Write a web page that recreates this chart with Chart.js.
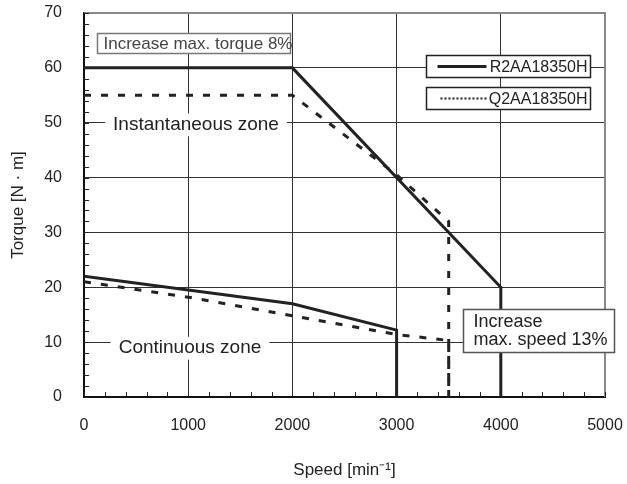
<!DOCTYPE html>
<html>
<head>
<meta charset="utf-8">
<script src="https://cdn.jsdelivr.net/npm/chart.js@4.4.1/dist/chart.umd.min.js"></script>
<style>
  html, body { margin: 0; padding: 0; background: #fff; }
</style>
</head>
<body>
<canvas id="torqueChart" width="627" height="484"></canvas>
<script>
// axis ticks
const speedTicks = [0, 1000, 2000, 3000, 4000, 5000];
const torqueTicks = [0, 10, 20, 30, 40, 50, 60, 70];

// R2AA18350H (solid)
const r2InstSpeed = [0, 2000, 4000, 4000];
const r2InstTorque = [60, 60, 20, 0];
const r2ContSpeed = [0, 2000, 3000, 3000];
const r2ContTorque = [22, 17, 12.2, 0];

// Q2AA18350H (dashed)
const q2InstSpeed = [0, 2000, 3000, 3500, 3500];
const q2InstTorque = [55, 55, 40.5, 32, 0];
const q2ContSpeed = [0, 1000, 2000, 3000, 3500, 3500];
const q2ContTorque = [21, 18.2, 14.8, 11.4, 10.3, 0];

const seriesNames = ["R2AA18350H", "Q2AA18350H"];

const FONT = "'Liberation Sans', Arial, sans-serif";
const INK = "#222";

const toPoints = (xs, ys) => xs.map((x, i) => ({ x: x, y: ys[i] }));

const solid = (xs, ys) => ({
  data: toPoints(xs, ys),
  borderColor: INK,
  borderWidth: 3,
  pointRadius: 0,
  showLine: true,
  tension: 0,
});
const dashed = (xs, ys) => ({
  data: toPoints(xs, ys),
  borderColor: INK,
  borderWidth: 3,
  borderDash: [7, 10],
  pointRadius: 0,
  showLine: true,
  tension: 0,
});

// minor ticks, frame and the text boxes
const overlayPlugin = {
  id: "overlay",
  beforeDatasetsDraw(chart) {
    const { ctx, chartArea: a, scales } = chart;
    const sx = scales.x, sy = scales.y;
    ctx.save();
    ctx.strokeStyle = "#888";
    ctx.lineWidth = 2;
    ctx.beginPath();
    ctx.moveTo(a.left, a.top);
    ctx.lineTo(a.right, a.top);
    ctx.lineTo(a.right, a.bottom);
    ctx.stroke();

    ctx.strokeStyle = INK;
    ctx.lineWidth = 1;
    ctx.beginPath();
    for (let v = 0; v <= 5000; v += 200) {
      const px = Math.round(sx.getPixelForValue(v)) + 0.5;
      ctx.moveTo(px, a.bottom);
      ctx.lineTo(px, a.bottom - 5);
    }
    for (let v = 0; v <= 70; v += 2) {
      const py = Math.round(sy.getPixelForValue(v)) + 0.5;
      ctx.moveTo(a.left, py);
      ctx.lineTo(a.left + 5, py);
    }
    ctx.stroke();
    ctx.restore();
  },
  afterDatasetsDraw(chart) {
    const { ctx, scales } = chart;
    const sx = scales.x, sy = scales.y;
    const X = (v) => sx.getPixelForValue(v);
    const Y = (v) => sy.getPixelForValue(v);

    const box = (x0, y0, x1, y1, stroke) => {
      const l = Math.round(X(x0)) + 0.5, r = Math.round(X(x1)) + 0.5;
      const t = Math.round(Y(y0)) + 0.5, b = Math.round(Y(y1)) + 0.5;
      ctx.fillStyle = "#fff";
      ctx.fillRect(l, t, r - l, b - t);
      ctx.strokeStyle = stroke;
      ctx.lineWidth = 1.5;
      ctx.strokeRect(l, t, r - l, b - t);
      return { l, r, t, b };
    };
    const label = (text, xv, yv, size) => {
      ctx.font = size + "px " + FONT;
      const w = ctx.measureText(text).width;
      const cx = X(xv), cy = Y(yv);
      ctx.fillStyle = "#fff";
      ctx.fillRect(cx - w / 2 - 8, cy - size * 0.6, w + 16, size * 1.2);
      ctx.fillStyle = INK;
      ctx.textAlign = "center";
      ctx.textBaseline = "middle";
      ctx.fillText(text, cx, cy);
    };

    ctx.save();
    // torque note
    let b = box(125, 66.4, 1977, 62.7, "#777");
    ctx.font = "17px " + FONT;
    ctx.fillStyle = "#444";
    ctx.textAlign = "left";
    ctx.textBaseline = "middle";
    ctx.fillText("Increase max. torque 8%", b.l + 6, (b.t + b.b) / 2 + 1);

    // legend
    b = box(3282, 62.4, 4856, 58.4, INK);
    ctx.strokeStyle = INK;
    ctx.lineWidth = 3;
    ctx.setLineDash([]);
    ctx.beginPath();
    ctx.moveTo(b.l + 11, (b.t + b.b) / 2);
    ctx.lineTo(b.l + 60, (b.t + b.b) / 2);
    ctx.stroke();
    ctx.font = "16px " + FONT;
    ctx.fillStyle = INK;
    ctx.textAlign = "right";
    ctx.fillText(seriesNames[0], b.r - 3, (b.t + b.b) / 2 + 1);

    b = box(3282, 56.5, 4856, 52.5, INK);
    ctx.strokeStyle = INK;
    ctx.lineWidth = 2;
    ctx.setLineDash([2, 2]);
    ctx.beginPath();
    ctx.moveTo(b.l + 14, (b.t + b.b) / 2);
    ctx.lineTo(b.l + 60, (b.t + b.b) / 2);
    ctx.stroke();
    ctx.setLineDash([]);
    ctx.fillStyle = INK;
    ctx.fillText(seriesNames[1], b.r - 3, (b.t + b.b) / 2 + 1);

    // zone labels
    label("Instantaneous zone", 1075, 49.6, 19);
    label("Continuous zone", 1017, 8.9, 19);

    // speed note
    b = box(3637, 16, 5086, 8.2, "#555");
    ctx.font = "18px " + FONT;
    ctx.fillStyle = INK;
    ctx.textAlign = "left";
    ctx.textBaseline = "middle";
    ctx.fillText("Increase", b.l + 10, b.t + 13);
    ctx.fillText("max. speed 13%", b.l + 10, b.t + 31);
    ctx.restore();
  },
};

const gridColor = (last) => (c) =>
  c.tick.value === 0 || c.tick.value === last ? "rgba(0,0,0,0)" : "#333";

new Chart(document.getElementById("torqueChart"), {
  type: "scatter",
  data: {
    datasets: [
      solid(r2InstSpeed, r2InstTorque),
      solid(r2ContSpeed, r2ContTorque),
      dashed(q2InstSpeed, q2InstTorque),
      dashed(q2ContSpeed, q2ContTorque),
    ],
  },
  options: {
    responsive: false,
    animation: false,
    layout: { padding: { top: 13, right: 22, left: 0, bottom: 0 } },
    plugins: { legend: { display: false }, tooltip: { enabled: false } },
    scales: {
      x: {
        type: "linear",
        min: 0,
        max: 5000,
        afterBuildTicks: (s) => { s.ticks = speedTicks.map((v) => ({ value: v })); },
        afterFit: (s) => {
          s.height = 87;
          s.paddingLeft = 0;
          s.paddingRight = 0;
        },
        grid: { color: gridColor(5000), lineWidth: 1, drawTicks: false },
        border: { display: true, color: "#111", width: 2 },
        ticks: {
          color: INK, padding: 19, maxRotation: 0,
          font: { family: FONT, size: 16 },
          callback: (v) => String(v),
        },
        title: {
          display: true,
          text: "Speed [min\u207B\u00B9]",
          color: INK,
          font: { family: FONT, size: 17 },
          padding: { top: 0, bottom: 3 },
        },
      },
      y: {
        type: "linear",
        min: 0,
        max: 70,
        afterBuildTicks: (s) => { s.ticks = torqueTicks.map((v) => ({ value: v })); },
        afterFit: (s) => {
          s.width = 84;
          s.paddingTop = 0;
          s.paddingBottom = 0;
        },
        grid: { color: gridColor(70), lineWidth: 1, drawTicks: false },
        border: { display: true, color: "#111", width: 2 },
        ticks: {
          color: INK, padding: 22,
          font: { family: FONT, size: 16 },
          callback: (v) => String(v),
        },
        title: {
          display: true,
          text: "Torque [N \u00B7 m]",
          color: INK,
          font: { family: FONT, size: 17 },
          padding: { top: 8, bottom: 0 },
        },
      },
    },
  },
  plugins: [overlayPlugin],
});
</script>
</body>
</html>
